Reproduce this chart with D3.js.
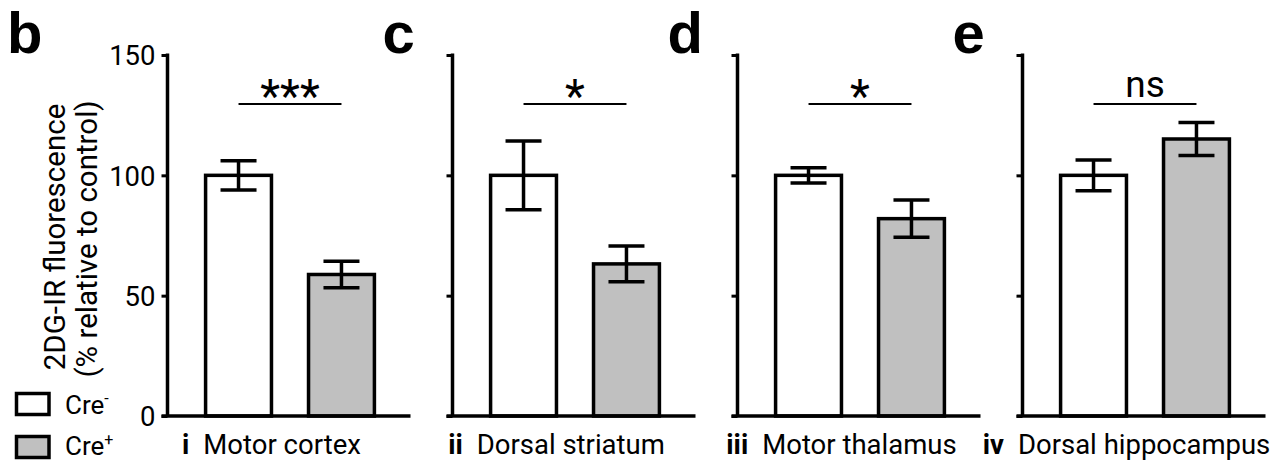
<!DOCTYPE html>
<html>
<head>
<meta charset="utf-8">
<script src="https://cdn.jsdelivr.net/npm/d3@7"></script>
<style>
  body { margin: 0; background: #fff; }
  svg { display: block; font-family: Roboto, "Noto Sans", sans-serif; }
</style>
</head>
<body>
<svg id="chart" width="1276" height="461"></svg>
<script>
const panelLetters = ["b", "c", "d", "e"];
const numerals = ["i", "ii", "iii", "iv"];
const regions = ["Motor cortex", "Dorsal striatum", "Motor thalamus", "Dorsal hippocampus"];
const groups = ["Cre-", "Cre+"];
const creNegMean = [100, 100, 100, 100];
const creNegSem = [6.1, 14.3, 3.2, 6.4];
const crePosMean = [58.8, 63.2, 82, 115.1];
const crePosSem = [5.5, 7.4, 7.7, 6.9];
const significance = ["***", "*", "*", "ns"];
const yTicks = [0, 50, 100, 150];

const svg = d3.select("#chart");
const fills = ["#ffffff", "#c0c0c0"];

const y = d3.scaleLinear().domain([0, 150]).range([416, 55]);
const x = d3.scaleBand().domain(groups).range([0, 245]).paddingInner(0.36).paddingOuter(0.37);

// y axis label
const ylab = svg.append("text")
    .attr("transform", "translate(65,237) rotate(-90)")
    .attr("text-anchor", "middle")
    .style("font-size", "29.5px");
ylab.append("tspan").attr("x", 0).attr("y", 0).text("2DG-IR fluorescence");
ylab.append("tspan").attr("x", -2).attr("y", 32).text("(% relative to control)");

regions.forEach(function (region, i) {
    let x0 = 167.5 + i * 285;
    let g = svg.append("g").attr("transform", "translate(" + x0 + ",0)");
    let data = [
        {group: groups[0], mean: creNegMean[i], sem: creNegSem[i]},
        {group: groups[1], mean: crePosMean[i], sem: crePosSem[i]}
    ];

    // bars
    g.selectAll("rect.bar")
        .data(data)
        .enter()
        .append("rect")
        .attr("class", "bar")
        .attr("x", d => x(d.group))
        .attr("y", d => y(d.mean))
        .attr("width", x.bandwidth())
        .attr("height", d => y(0) - y(d.mean))
        .attr("fill", (d, j) => fills[j])
        .style("stroke", "black")
        .style("stroke-width", 3.5);

    // error bars
    let err = g.selectAll("g.err")
        .data(data)
        .enter()
        .append("g")
        .attr("class", "err")
        .style("stroke", "black")
        .style("stroke-width", 3.5);
    err.append("line")
        .attr("x1", d => x(d.group) + x.bandwidth() / 2)
        .attr("x2", d => x(d.group) + x.bandwidth() / 2)
        .attr("y1", d => y(d.mean + d.sem))
        .attr("y2", d => y(d.mean - d.sem));
    err.selectAll("line.cap")
        .data(d => [d.mean + d.sem, d.mean - d.sem].map(v => ({group: d.group, v: v})))
        .enter()
        .append("line")
        .attr("class", "cap")
        .attr("x1", d => x(d.group) + x.bandwidth() / 2 - 18)
        .attr("x2", d => x(d.group) + x.bandwidth() / 2 + 18)
        .attr("y1", d => y(d.v))
        .attr("y2", d => y(d.v));

    // axes
    let yAxis = d3.axisLeft(y).tickValues(yTicks).tickSize(6).tickPadding(6);
    if (i > 0) yAxis.tickFormat("");
    let ya = g.append("g").call(yAxis);
    ya.select(".domain").remove();
    ya.selectAll(".tick line").style("stroke-width", 3);
    ya.selectAll(".tick text").style("font-size", "27.5px").style("font-family", "Roboto").attr("dy", "0.36em");
    g.append("line")
        .attr("x1", 0).attr("x2", 0)
        .attr("y1", y(150) - 1.5).attr("y2", y(0))
        .style("stroke", "black").style("stroke-width", 3.5);
    g.append("line")
        .attr("x1", -6).attr("x2", 243)
        .attr("y1", y(0)).attr("y2", y(0))
        .style("stroke", "black").style("stroke-width", 3.5);

    // significance
    let cx1 = x(groups[0]) + x.bandwidth() / 2;
    let cx2 = x(groups[1]) + x.bandwidth() / 2;
    g.append("line")
        .attr("x1", cx1).attr("x2", cx2)
        .attr("y1", 104).attr("y2", 104)
        .style("stroke", "black").style("stroke-width", 2.2);
    g.append("text")
        .attr("x", (cx1 + cx2) / 2)
        .attr("y", significance[i] == "ns" ? 97 : 112)
        .attr("text-anchor", "middle")
        .style("font-size", significance[i] == "ns" ? "37px" : "46px")
        .text(significance[i]);

    // panel letter
    svg.append("text")
        .attr("x", i == 0 ? 7 : x0 - 70)
        .attr("y", 53)
        .style("font-family", "'Liberation Sans', Arial, sans-serif")
        .style("font-weight", "bold")
        .style("font-size", "58px")
        .text(panelLetters[i]);

    // region label
    let lab = g.append("text")
        .attr("x", 104)
        .attr("y", 454)
        .attr("text-anchor", "middle")
        .style("font-size", "27.5px");
    lab.append("tspan").style("font-weight", "bold").text(numerals[i]);
    lab.append("tspan").attr("dx", 14).text(region);
});

// legend
const legend = svg.append("g");
groups.forEach(function (grp, j) {
    let ly = 393.5 + j * 43;
    legend.append("rect")
        .attr("x", 16.5).attr("y", ly)
        .attr("width", 32.5).attr("height", 21)
        .attr("fill", fills[j])
        .style("stroke", "black").style("stroke-width", 3.5);
    let t = legend.append("text")
        .attr("x", 65).attr("y", 414 + j * 41)
        .style("font-size", "26px")
        .text("Cre");
    t.append("tspan")
        .attr("dy", -10)
        .style("font-size", "16px")
        .text(j == 0 ? "-" : "+");
});
</script>
</body>
</html>
